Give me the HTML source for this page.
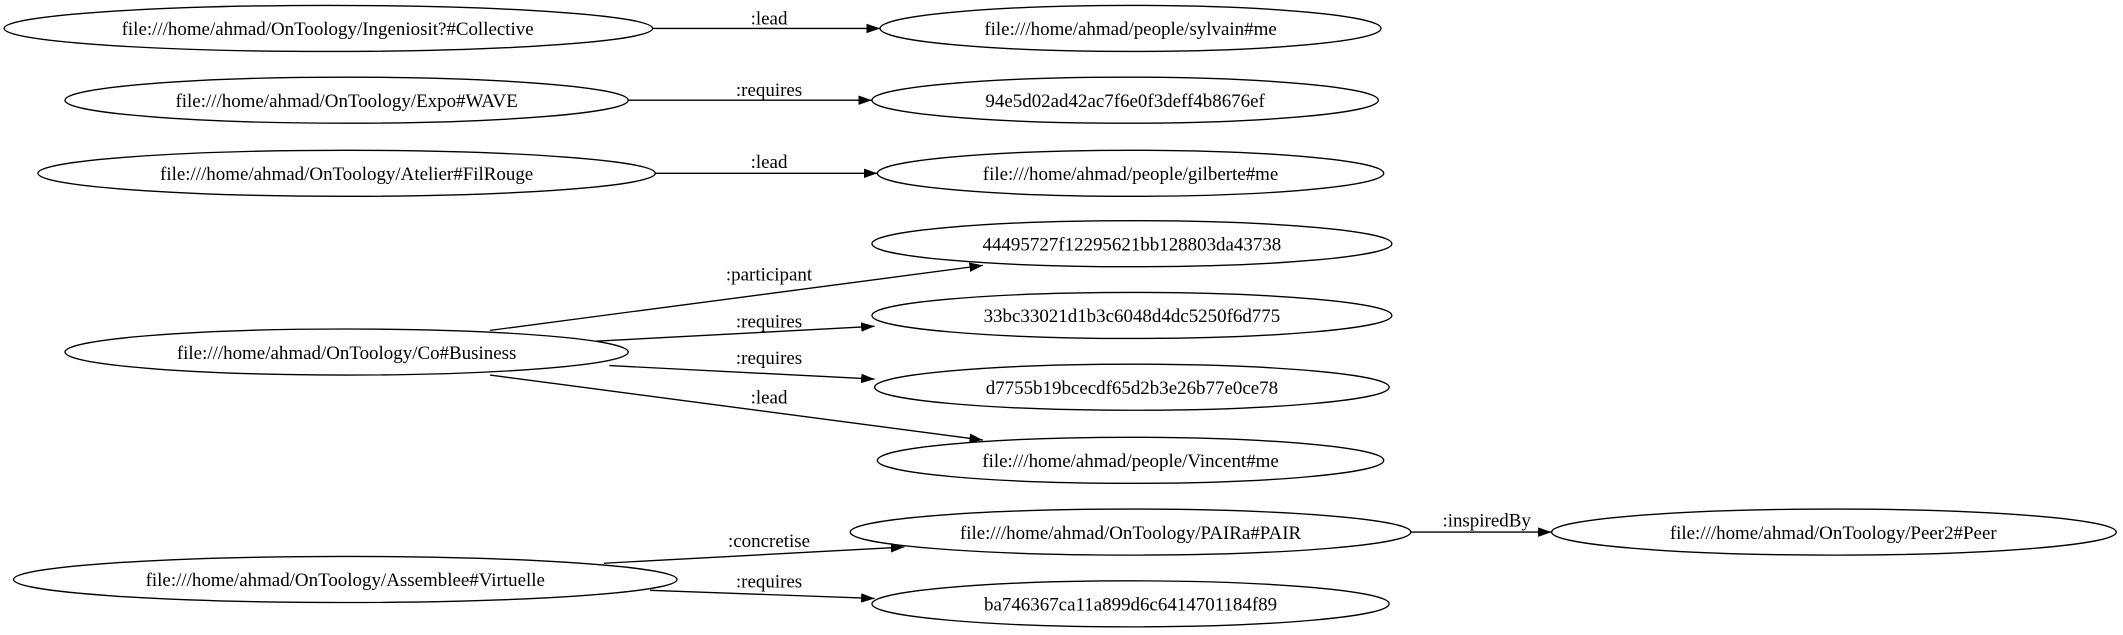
<!DOCTYPE html>
<html><head><meta charset="utf-8"><style>html,body{margin:0;padding:0;background:#fff}svg{display:block}</style></head>
<body>
<svg width="2123" height="635" viewBox="0 0 1568 469" preserveAspectRatio="none" xmlns="http://www.w3.org/2000/svg" font-family="'Liberation Serif', serif" font-size="14">
<defs><marker id="a" viewBox="0 0 10 7" refX="10" refY="3.5" markerWidth="10" markerHeight="7" markerUnits="userSpaceOnUse" orient="auto"><polygon points="0,0 10,3.5 0,7" fill="#000"/></marker></defs>
<g fill="none" stroke="#000" stroke-width="1">
<ellipse cx="242.5" cy="21" rx="239.5" ry="17"/>
<ellipse cx="256" cy="74" rx="208" ry="17"/>
<ellipse cx="256" cy="128" rx="228" ry="17"/>
<ellipse cx="256" cy="260" rx="208" ry="17"/>
<ellipse cx="255" cy="428" rx="245" ry="17"/>
<ellipse cx="835" cy="21" rx="185" ry="17"/>
<ellipse cx="831" cy="74" rx="187" ry="17"/>
<ellipse cx="835" cy="128" rx="187" ry="17"/>
<ellipse cx="836" cy="180" rx="192" ry="17"/>
<ellipse cx="836" cy="233" rx="192" ry="17"/>
<ellipse cx="836" cy="286" rx="190" ry="17"/>
<ellipse cx="835" cy="340" rx="187" ry="17"/>
<ellipse cx="835" cy="393" rx="207" ry="17"/>
<ellipse cx="835" cy="446" rx="191" ry="17"/>
<ellipse cx="1354.5" cy="393" rx="208.5" ry="17"/>
<line x1="482" y1="21" x2="650" y2="21" marker-end="url(#a)"/>
<line x1="464" y1="74" x2="644" y2="74" marker-end="url(#a)"/>
<line x1="484" y1="128" x2="648" y2="128" marker-end="url(#a)"/>
<line x1="362" y1="244" x2="726" y2="196" marker-end="url(#a)"/>
<line x1="440" y1="252" x2="646" y2="241" marker-end="url(#a)"/>
<line x1="450" y1="270" x2="646" y2="280" marker-end="url(#a)"/>
<line x1="362" y1="277" x2="726" y2="325" marker-end="url(#a)"/>
<line x1="446" y1="416" x2="668" y2="404" marker-end="url(#a)"/>
<line x1="480" y1="436" x2="646" y2="442" marker-end="url(#a)"/>
<line x1="1042" y1="393" x2="1146" y2="393" marker-end="url(#a)"/>
</g>
<g text-anchor="middle" fill="#000">
<text x="242" y="26">file:///home/ahmad/OnToology/Ingeniosit?#Collective</text>
<text x="256" y="79">file:///home/ahmad/OnToology/Expo#WAVE</text>
<text x="256" y="133">file:///home/ahmad/OnToology/Atelier#FilRouge</text>
<text x="256" y="265">file:///home/ahmad/OnToology/Co#Business</text>
<text x="255" y="433">file:///home/ahmad/OnToology/Assemblee#Virtuelle</text>
<text x="835" y="26">file:///home/ahmad/people/sylvain#me</text>
<text x="831" y="79">94e5d02ad42ac7f6e0f3deff4b8676ef</text>
<text x="835" y="133">file:///home/ahmad/people/gilberte#me</text>
<text x="836" y="185">44495727f12295621bb128803da43738</text>
<text x="836" y="238">33bc33021d1b3c6048d4dc5250f6d775</text>
<text x="836" y="291">d7755b19bcecdf65d2b3e26b77e0ce78</text>
<text x="835" y="345">file:///home/ahmad/people/Vincent#me</text>
<text x="835" y="398">file:///home/ahmad/OnToology/PAIRa#PAIR</text>
<text x="835" y="451">ba746367ca11a899d6c6414701184f89</text>
<text x="1354" y="398">file:///home/ahmad/OnToology/Peer2#Peer</text>
<text x="568" y="18">:lead</text>
<text x="568" y="71">:requires</text>
<text x="568" y="124">:lead</text>
<text x="568" y="207">:participant</text>
<text x="568" y="242">:requires</text>
<text x="568" y="269">:requires</text>
<text x="568" y="298">:lead</text>
<text x="568" y="404">:concretise</text>
<text x="568" y="434">:requires</text>
<text x="1098" y="389">:inspiredBy</text>
</g>
</svg>
</body></html>
